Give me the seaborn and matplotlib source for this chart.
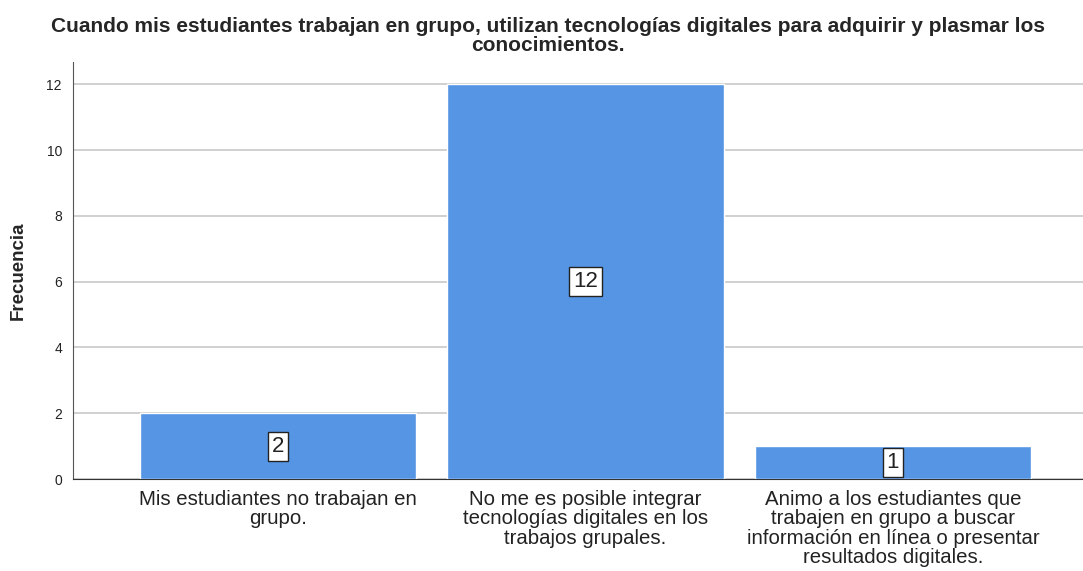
import pandas as pd
import matplotlib
matplotlib.use("Agg")
import matplotlib.pyplot as plt
import seaborn as sns

# -------------------------------
# Data
# -------------------------------
categorias = [
    "Mis estudiantes no trabajan en\ngrupo.",
    "No me es posible integrar\ntecnologías digitales en los\ntrabajos grupales.",
    "Animo a los estudiantes que\ntrabajen en grupo a buscar\ninformación en línea o presentar\nresultados digitales.",
]
frecuencias = [2, 12, 1]
y_ticks = [0, 2, 4, 6, 8, 10, 12]

df = pd.DataFrame({"categoria": categorias, "frecuencia": frecuencias})

# -------------------------------
# Plot
# -------------------------------
sns.set_style("white")
plt.rcParams["font.family"] = ["Liberation Sans", "DejaVu Sans"]

fig = plt.figure(figsize=(10.83, 5.71), dpi=100)
ax = fig.add_axes([0.0674, 0.161, 0.9326, 0.73])

sns.barplot(data=df, x="categoria", y="frecuencia", color="#5595E4",
            saturation=1, width=0.9, ax=ax, zorder=3)

ax.set_xlim(-0.667, 2.618)
ax.set_ylim(0, 12.67)
ax.set_yticks(y_ticks)
ax.grid(axis="y", color="#c8c8c8", linewidth=1.2, zorder=0)
ax.set_axisbelow(True)

for s in ["top", "right"]:
    ax.spines[s].set_visible(False)
ax.spines["left"].set_color("#555555")
ax.spines["bottom"].set_color("#333333")

ax.tick_params(axis="y", labelsize=10, length=0, pad=8, labelcolor="#222222")
ax.tick_params(axis="x", labelsize=14.7, length=0, pad=8, labelcolor="#222222")
for lbl in ax.get_xticklabels():
    lbl.set_linespacing(1.02)

ax.set_xlabel("")
ax.set_ylabel("Frecuencia", fontsize=13.5, fontweight="bold", labelpad=14)

# value labels in the middle of each bar
for i, v in enumerate(frecuencias):
    ax.text(i, v / 2, str(v), ha="center", va="center", fontsize=16,
            color="#222222", zorder=5,
            bbox=dict(boxstyle="square,pad=0.18", facecolor="white",
                      edgecolor="#222222", linewidth=1))

fig.suptitle("Cuando mis estudiantes trabajan en grupo, utilizan tecnologías digitales para adquirir y plasmar los\nconocimientos.",
             x=0.506, y=0.97, fontsize=15, fontweight="bold", linespacing=1.02)

fig.savefig("out.png", dpi=100)
